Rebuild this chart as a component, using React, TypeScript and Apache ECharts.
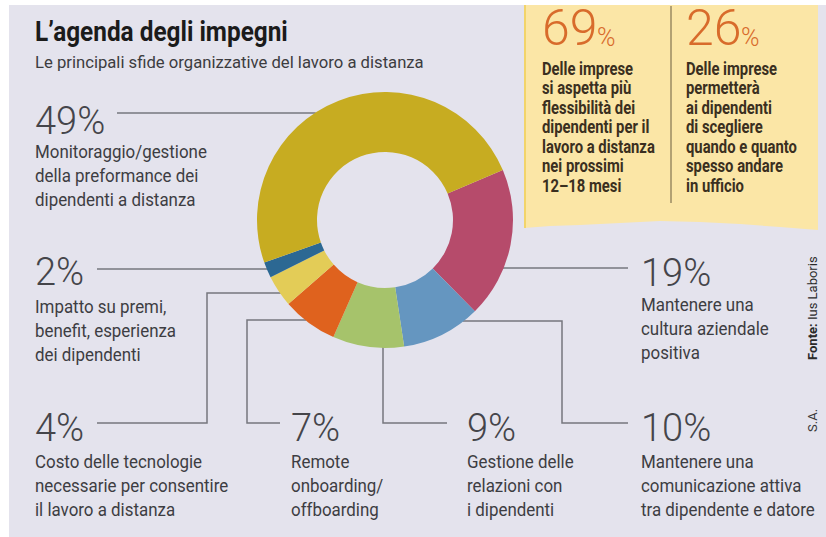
import React, { useEffect, useRef } from "react";
import * as echarts from "echarts";

// ---------- data ----------
const title = "L’agenda degli impegni";
const subtitle = "Le principali sfide organizzative del lavoro a distanza";
const categories = [
  "Mantenere una cultura aziendale positiva",
  "Mantenere una comunicazione attiva tra dipendente e datore",
  "Gestione delle relazioni con i dipendenti",
  "Remote onboarding/offboarding",
  "Costo delle tecnologie necessarie per consentire il lavoro a distanza",
  "Impatto su premi, benefit, esperienza dei dipendenti",
  "Monitoraggio/gestione della preformance dei dipendenti a distanza",
];
const values = [19, 10, 9, 7, 4, 2, 49];
const descriptions: string[][] = [
  ["Mantenere una", "cultura aziendale", "positiva"],
  ["Mantenere una", "comunicazione attiva", "tra dipendente e datore"],
  ["Gestione delle", "relazioni con", "i dipendenti"],
  ["Remote", "onboarding/", "offboarding"],
  ["Costo delle tecnologie", "necessarie per consentire", "il lavoro a distanza"],
  ["Impatto su premi,", "benefit, esperienza", "dei dipendenti"],
  ["Monitoraggio/gestione", "della preformance dei", "dipendenti a distanza"],
];
const boxValues = [69, 26];
const boxTexts: string[][] = [
  ["Delle imprese", "si aspetta più", "flessibilità dei", "dipendenti per il", "lavoro a distanza", "nei prossimi", "12–18 mesi"],
  ["Delle imprese", "permetterà", "ai dipendenti", "di scegliere", "quando e quanto", "spesso andare", "in ufficio"],
];
const sourceLabel = "Fonte:";
const sourceName = "Ius Laboris";
const signature = "S.A.";

// ---------- styles / layout ----------
const sliceColors = ["#b64b6b", "#6596c0", "#a6c36b", "#df621e", "#e3cc57", "#2c6893", "#c7ac21"];
const CX = 385, CY = 220, R0 = 68, R1 = 128;
const BODY = 'Roboto, "Liberation Sans", sans-serif';
const LINE = "#76777e";

const edgeL = (y: number) => CX - Math.sqrt(R1 * R1 - (y - CY) * (y - CY)) + 1;
const edgeR = (y: number) => CX + Math.sqrt(R1 * R1 - (y - CY) * (y - CY)) - 1;
const edgeB = (x: number) => CY + Math.sqrt(R1 * R1 - (x - CX) * (x - CX)) - 1;

// label anchors per slice (same order as values)
const layout = [
  { x: 641, pctY: 273, descY: 305, leader: [[edgeR(268), 268], [628, 268]] },
  { x: 641, pctY: 428, descY: 462, leader: [[edgeR(321), 321], [562, 321], [562, 423], [628, 423]] },
  { x: 467, pctY: 428, descY: 462, leader: [[383, edgeB(383)], [383, 423], [447, 423]] },
  { x: 291, pctY: 428, descY: 462, leader: [[edgeL(320), 320], [247, 320], [247, 423], [280, 423]] },
  { x: 35, pctY: 428, descY: 462, leader: [[edgeL(293), 293], [207, 293], [207, 423], [97, 423]] },
  { x: 35, pctY: 272, descY: 307, leader: [[edgeL(269), 269], [97, 269]] },
  { x: 35, pctY: 121, descY: 152, leader: [[edgeL(113), 113], [117, 113]] },
];

export default function App() {
  const ref = useRef<HTMLDivElement>(null);
  useEffect(() => {
    if (!ref.current) return;
    const chart = echarts.init(ref.current, undefined, { renderer: "svg" });

    const graphics: any[] = [];
    // panel background
    graphics.push({ type: "rect", z: -10, shape: { x: 9, y: 5, width: 817, height: 532 }, style: { fill: "#e4e3ed" } });
    // yellow box
    graphics.push({
      type: "polygon", z: -9,
      shape: { points: [[524, 5], [818, 5], [818, 230], [780, 227], [740, 224], [700, 222], [660, 221], [620, 223], [580, 225], [550, 226], [524, 228]] },
      style: { fill: "#fbe6a6" },
    });
    graphics.push({ type: "rect", z: -8, shape: { x: 524, y: 5, width: 2, height: 223 }, style: { fill: "#f2d46a" } });
    graphics.push({ type: "line", z: -7, shape: { x1: 671, y1: 6, x2: 671, y2: 203 }, style: { stroke: "#9a8a62", lineWidth: 1.5 } });

    // title
    graphics.push({ type: "text", x: 35, y: 31, scaleX: 0.87, style: { text: title, fontFamily: BODY, fontWeight: "bold", fontSize: 28, fill: "#1b1b1b", verticalAlign: "middle" } });
    graphics.push({ type: "text", x: 35, y: 62, scaleX: 0.98, style: { text: subtitle, fontFamily: BODY, fontSize: 17, fill: "#3c3c40", verticalAlign: "middle" } });

    // box numbers and texts
    const boxX = [542, 686];
    boxValues.forEach((v, i) => {
      graphics.push({ type: "text", x: boxX[i], y: 28, style: { text: String(v), fontFamily: BODY, fontWeight: 300, fontSize: 50, fill: "#d86b2b", verticalAlign: "middle" } });
      graphics.push({ type: "text", x: boxX[i] + 55, y: 37, style: { text: "%", fontFamily: BODY, fontWeight: 300, fontSize: 25, fill: "#d86b2b", verticalAlign: "middle" } });
      graphics.push({
        type: "text", x: boxX[i], y: 58, scaleX: 0.78,
        style: { text: boxTexts[i].join("\n"), fontFamily: BODY, fontWeight: "bold", fontSize: 19, lineHeight: 19.6, fill: "#3a2f20", verticalAlign: "top" },
      });
    });

    // leader lines and labels
    values.forEach((v, i) => {
      const L = layout[i];
      graphics.push({ type: "polyline", z: -5, shape: { points: L.leader }, style: { stroke: LINE, lineWidth: 1.5, fill: null } });
      graphics.push({ type: "text", x: L.x, y: L.pctY, style: { text: v + "%", fontFamily: BODY, fontWeight: 300, fontSize: 38, fill: "#45454a", verticalAlign: "middle" } });
      graphics.push({
        type: "text", x: L.x, y: L.descY - 12, scaleX: 0.94,
        style: { text: descriptions[i].join("\n"), fontFamily: BODY, fontSize: 18, lineHeight: 24, fill: "#3d3d42", verticalAlign: "top" },
      });
    });

    // source + signature (rotated)
    graphics.push({
      type: "text", x: 812, y: 360, rotation: Math.PI / 2,
      style: { text: `{b|${sourceLabel}} ${sourceName}`, fontFamily: BODY, fontSize: 13, fill: "#2a2a2a", verticalAlign: "middle", rich: { b: { fontWeight: "bold", fontFamily: BODY, fontSize: 13, fill: "#2a2a2a" } } },
    });
    graphics.push({
      type: "text", x: 812, y: 432, rotation: Math.PI / 2,
      style: { text: signature, fontFamily: BODY, fontSize: 13, fill: "#3a3a3a", verticalAlign: "middle" },
    });

    chart.setOption({
      animation: false,
      backgroundColor: "#ffffff",
      graphic: { elements: graphics },
      series: [
        {
          type: "pie",
          center: [CX, CY],
          radius: [R0, R1],
          startAngle: 23,
          clockwise: true,
          silent: true,
          avoidLabelOverlap: false,
          label: { show: false },
          labelLine: { show: false },
          itemStyle: { borderWidth: 0 },
          data: values.map((v, i) => ({ value: v, name: categories[i], itemStyle: { color: sliceColors[i] } })),
        },
      ],
    });
    return () => chart.dispose();
  }, []);
  return <div ref={ref} style={{ position: "fixed", left: 0, top: 0, width: 826, height: 537 }} />;
}
